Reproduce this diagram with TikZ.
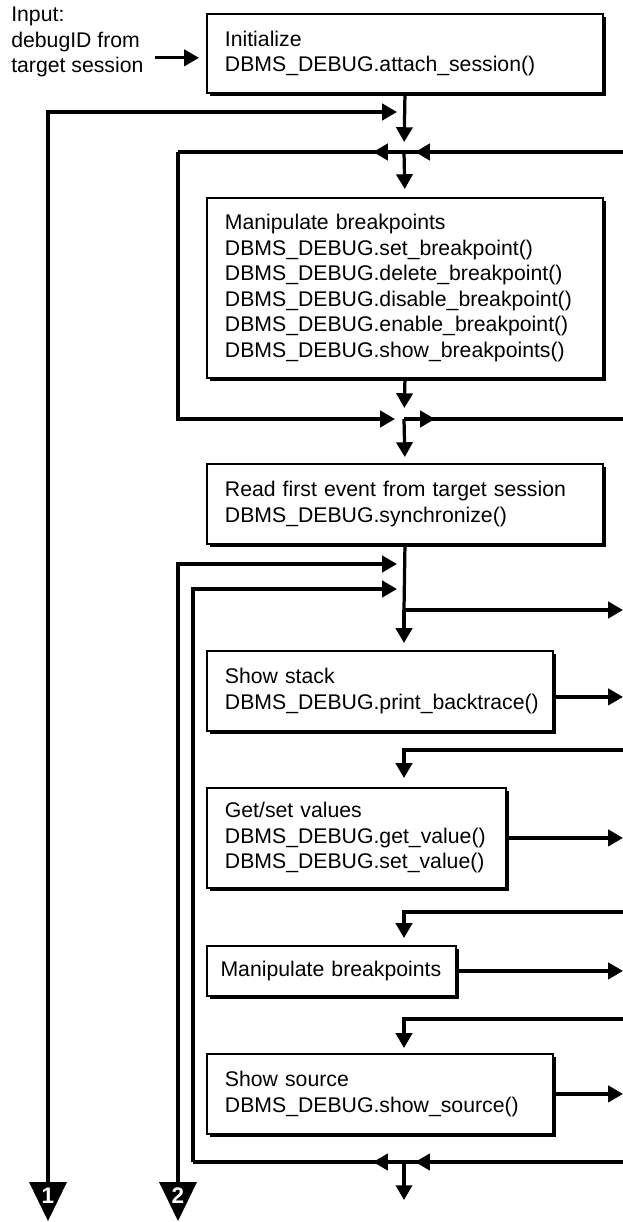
\documentclass[tikz,border=0pt]{standalone}
\usepackage{fontspec}
\setmainfont{Liberation Sans}
\usetikzlibrary{arrows.meta, shadows, positioning, calc}

\tikzset{
  flow/.style={line width=2.3pt},
  arr/.style={flow, -{Triangle[length=10.5pt, width=11.5pt]}},
  stepbox/.style={draw, line width=1.3pt, fill=white, anchor=north west,
    align=left, inner xsep=0.45cm, inner ysep=0pt,
    drop shadow={fill=black, opacity=1, shadow xshift=0.075cm, shadow yshift=-0.075cm}},
  connnum/.style={text=white, inner sep=0pt, font=\bfseries\fontsize{16pt}{18pt}\selectfont}
}

\begin{document}
\begin{tikzpicture}[x=0.025cm, y=-0.025cm, font=\fontsize{15.1pt}{18.1pt}\selectfont]

  \useasboundingbox (0,0) rectangle (623,1222);

  % Steps
  \node[anchor=west, align=left, inner sep=0pt] (input) at (11,42) {Input:\\debugID from\\target session};
  \node[stepbox, text width=9cm, minimum height=1.975cm] (init) at (206,13) {Initialize\\DBMS\_DEBUG.attach\_session()};
  \node[stepbox, text width=9cm, minimum height=4.5cm] (bp) at (206,197) {Manipulate breakpoints\\DBMS\_DEBUG.set\_breakpoint()\\DBMS\_DEBUG.delete\_breakpoint()\\DBMS\_DEBUG.disable\_breakpoint()\\DBMS\_DEBUG.enable\_breakpoint()\\DBMS\_DEBUG.show\_breakpoints()};
  \node[stepbox, text width=9cm, minimum height=2cm] (read) at (206,463) {Read first event from target session\\DBMS\_DEBUG.synchronize()};
  \node[stepbox, text width=7.75cm, minimum height=2cm] (stack) at (206,650) {Show stack\\DBMS\_DEBUG.print\_backtrace()};
  \node[stepbox, text width=6.575cm, minimum height=2.5cm] (getset) at (206,787) {Get/set values\\DBMS\_DEBUG.get\_value()\\DBMS\_DEBUG.set\_value()};
  \node[stepbox, text width=5.55cm, inner xsep=0.34cm, minimum height=1.25cm] (bpshort) at (206,945) {Manipulate breakpoints};
  \node[stepbox, text width=7.75cm, minimum height=2cm] (source) at (206,1053) {Show source\\DBMS\_DEBUG.show\_source()};

  % Junctions and page edges
  \coordinate (back1) at (404,112);
  \coordinate (j1) at (404,152);
  \coordinate (j2) at (404,419);
  \coordinate (back2) at (404,564);
  \coordinate (back3) at (404,589);
  \coordinate (skip) at (404,610);
  \coordinate (j4) at (404,1162);
  \coordinate (exit) at (404,1200);
  \coordinate (l1) at (178,152);
  \coordinate (l4) at (193,1162);
  \coordinate (r1) at (623,152);
  \coordinate (r2) at (623,419);
  \coordinate (r3) at (623,610);
  \coordinate (r5) at (623,750);
  \coordinate (r6) at (623,912);
  \coordinate (r7) at (623,1019);
  \coordinate (r4) at (623,1162);
  \coordinate (t1) at (48,1182);
  \coordinate (t2) at (178,1182);
  \coordinate (inarr) at ([yshift=-0.11cm]init.west);

  % Start
  \draw[arr, shorten <=0.275cm, shorten >=0.175cm] (input.east |- inarr) -- (inarr);
  \draw[arr, shorten >=0.25cm] (init.south) -- (j1);

  % Breakpoint loop
  \draw[flow] (l1) -- (r1);
  \draw[arr] (j1) -- ++(-31,0);
  \draw[arr, shorten >=0.275cm] (r1) -- (j1);
  \draw[arr, shorten >=0.2cm] (j1) -- (bp.north);
  \draw[arr, shorten >=0.275cm] (bp.south) -- (j2);
  \draw[arr, shorten >=0.225cm] (l1) |- (j2);
  \draw[flow] (j2) -- (r2);
  \draw[arr] (j2) -- ++(31,0);
  \draw[arr, shorten >=0.15cm] (j2) -- (read.north);

  % Event loop
  \draw[flow] (read.south) -- (skip);
  \draw[arr] (skip) -- (r3);
  \draw[arr, shorten >=0.175cm] (skip) -- (stack.north -| skip);
  \draw[arr, shorten >=0.175cm] (t1) |- (back1);
  \draw[arr, shorten >=0.175cm] (t2) |- (back2);
  \draw[arr] ([yshift=-0.15cm]stack.east) -- ([yshift=-0.15cm]stack.east -| r1);
  \draw[arr, shorten >=0.225cm] (r5) -| (getset.north -| skip);
  \draw[arr] (getset.east) -- (getset.east -| r1);
  \draw[arr, shorten >=0.175cm] (r6) -| (bpshort.north -| skip);
  \draw[arr] (bpshort.east) -- (bpshort.east -| r1);
  \draw[arr, shorten >=0.125cm] (r7) -| (source.north -| skip);
  \draw[arr] (source.east) -- (source.east -| r1);

  % Bottom merge
  \draw[flow] (l4) -- (r4);
  \draw[arr] (j4) -- ++(-31,0);
  \draw[arr, shorten >=0.275cm] (r4) -- (j4);
  \draw[arr, shorten >=0.175cm] (l4) |- (back3);
  \draw[arr] (j4) -- (exit);

  % Off-page connectors
  \fill (t1) ++(-19,0) -- ++(38,0) -- ++(-19,39) -- cycle;
  \node[connnum] (n1) at (48,1196) {1};
  \fill (t2) ++(-19,0) -- ++(38,0) -- ++(-19,39) -- cycle;
  \node[connnum] (n2) at (178,1196) {2};

\end{tikzpicture}
\end{document}
